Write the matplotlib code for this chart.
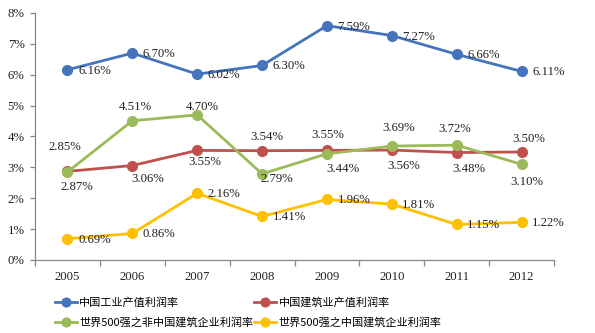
import matplotlib
matplotlib.use("Agg")
import matplotlib.pyplot as plt
from matplotlib.ticker import FixedLocator, PercentFormatter

# Profit margin series (%), 2005-2012
years = ["2005", "2006", "2007", "2008", "2009", "2010", "2011", "2012"]
cn_industry = [6.16, 6.70, 6.02, 6.30, 7.59, 7.27, 6.66, 6.11]
cn_construction = [2.87, 3.06, 3.55, 3.54, 3.55, 3.56, 3.48, 3.50]
g500_non_cn = [2.85, 4.51, 4.70, 2.79, 3.44, 3.69, 3.72, 3.10]
g500_cn = [0.69, 0.86, 2.16, 1.41, 1.96, 1.81, 1.15, 1.22]

series_names = ["中国工业产值利润率", "中国建筑业产值利润率",
                "世界500强之非中国建筑企业利润率", "世界500强之中国建筑企业利润率"]

# Label offsets from each point, in pixels (dx right, dy up)
RIGHT = [(27, -1)] * 8
off_industry = RIGHT
off_construction = [(9, -16), (15, -13), (8, -12), (5, 14),
                    (1, 15), (12, -16), (12, -16), (7, 13)]
off_non_cn = [(-3, 25), (3, 14), (5, 8), (15, -5),
              (16, -15), (7, 18), (-2, 16), (5, -18)]
off_cn = RIGHT

COLORS = ["#4374BC", "#C0504D", "#9BBB59", "#FFC000"]
AX_GRAY = "#868686"
SERIF = "Liberation Serif"

fig = plt.figure(figsize=(5.95, 3.33), dpi=100)
ax = fig.add_axes([35 / 595, 1 - 260 / 333, 519 / 595, 247 / 333])

x = list(range(len(years)))
data = [cn_industry, cn_construction, g500_non_cn, g500_cn]
offsets = [off_industry, off_construction, off_non_cn, off_cn]
# draw order: yellow, blue, red, green on top
for idx in (3, 0, 1, 2):
    vals = data[idx]
    ax.plot(x, vals, color=COLORS[idx], lw=2.0, marker="o", ms=7,
            label=series_names[idx], zorder=3 + idx * 0.1)
    for xi, v, (dx, dy) in zip(x, vals, offsets[idx]):
        ax.annotate(f"{v:.2f}%", (xi, v), xytext=(dx, dy),
                    textcoords="offset pixels", ha="center", va="center",
                    fontsize=9.2, family=SERIF, color="#222222", zorder=5)

ax.set_xlim(-0.5, len(years) - 0.5)
ax.set_ylim(0, 8)
ax.yaxis.set_major_formatter(PercentFormatter(decimals=0))
ax.set_yticks(range(0, 9))
ax.set_xticks(x)
ax.set_xticklabels(years)
ax.xaxis.set_minor_locator(FixedLocator([i - 0.5 for i in range(len(years) + 1)]))

for side in ("top", "right"):
    ax.spines[side].set_visible(False)
for side in ("left", "bottom"):
    ax.spines[side].set_color(AX_GRAY)
    ax.spines[side].set_linewidth(0.9)

ax.tick_params(axis="y", direction="out", length=3.5, width=0.9, color=AX_GRAY,
               pad=4, labelsize=9.2, labelcolor="#222222")
ax.tick_params(axis="x", which="major", length=0, pad=8, labelsize=9.2,
               labelcolor="#222222")
ax.tick_params(axis="x", which="minor", direction="out", length=4, width=0.9,
               color=AX_GRAY)
for lbl in ax.get_xticklabels() + ax.get_yticklabels():
    lbl.set_family(SERIF)

# legend filled row by row: ncol=2 fills columns first, so interleave
handles, labels = ax.get_legend_handles_labels()
by_name = dict(zip(labels, handles))
leg_order = [series_names[0], series_names[2], series_names[1], series_names[3]]
fig.legend([by_name[n] for n in leg_order], leg_order,
           loc="upper left", bbox_to_anchor=(55 / 595, 1 - 297 / 333),
           ncol=2, frameon=False, borderpad=0, borderaxespad=0,
           handlelength=2.0, handletextpad=0.2, columnspacing=0.05,
           labelspacing=0.85, markerscale=0.9,
           prop={"family": ["Noto Sans CJK SC", "DejaVu Sans"], "size": 8})

fig.savefig("out.png", dpi=100)
